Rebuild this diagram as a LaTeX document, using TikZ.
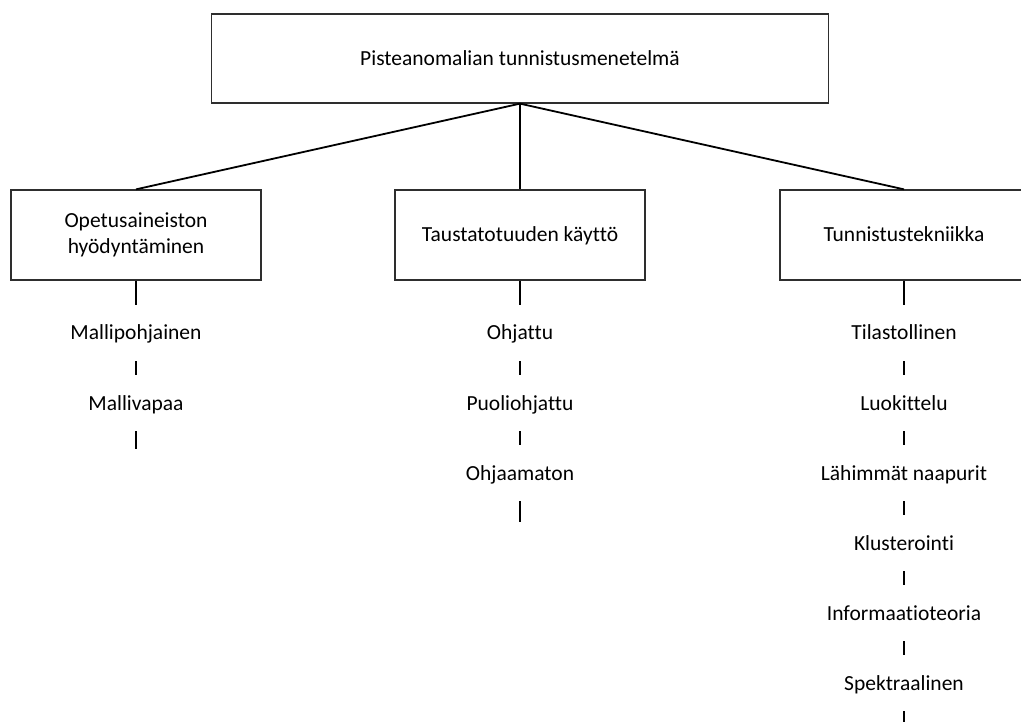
\documentclass[tikz,border=0pt]{standalone}
\usepackage{fontspec}
\setmainfont[Ligatures=NoCommon]{Carlito}
\begin{document}
\begin{tikzpicture}[x=1pt,y=-1pt,
  txt/.style={font=\fontsize{21.5}{26}\selectfont},
  box/.style={txt, draw=black!82, line width=1.3pt, inner sep=0pt, align=center},
  oneline/.style={text height=17pt, text depth=3pt},
  item/.style={txt, oneline, inner sep=0pt, minimum height=56pt},
  link/.style={line width=1.8pt},
  tick/.style={line width=1.4pt}]
\useasboundingbox (0,0) rectangle (1021,722);
\clip (0,0) rectangle (1021,722);

% root and the three criteria
\node[box, oneline, minimum width=617pt, minimum height=89pt] (root) at (520,58.5) {Pisteanomalian tunnistusmenetelmä};
\node[box, minimum width=250pt, minimum height=90pt] (train) at (136,235) {Opetusaineiston\\hyödyntäminen};
\node[box, oneline, minimum width=250pt, minimum height=90pt] (back) at (520,235) {Taustatotuuden käyttö};
\node[box, oneline, minimum width=248pt, minimum height=90pt] (tech) at (904,235) {Tunnistustekniikka};

\draw[link] (root.south) -- (train.north);
\draw[link] (root.south) -- (back.north);
\draw[link] (root.south) -- (tech.north);

% training data
\node[item] (m1) at (136,333) {Mallipohjainen};
\node[item] (m2) at (136,403) {Mallivapaa};
\coordinate (mend) at (136,449);
\draw[tick] (train.south) -- (m1.north);
\draw[tick] (m1.south) -- (m2.north);
\draw[tick] (m2.south) -- (mend);

% ground truth
\node[item] (o1) at (520,333) {Ohjattu};
\node[item] (o2) at (520,403) {Puoliohjattu};
\node[item] (o3) at (520,473) {Ohjaamaton};
\coordinate (oend) at (520,522);
\draw[tick] (back.south) -- (o1.north);
\draw[tick] (o1.south) -- (o2.north);
\draw[tick] (o2.south) -- (o3.north);
\draw[tick] (o3.south) -- (oend);

% detection technique
\node[item] (t1) at (904,333) {Tilastollinen};
\node[item] (t2) at (904,403) {Luokittelu};
\node[item] (t3) at (904,473) {Lähimmät naapurit};
\node[item] (t4) at (904,543) {Klusterointi};
\node[item] (t5) at (904,613) {Informaatioteoria};
\node[item] (t6) at (904,683) {Spektraalinen};
\coordinate (tend) at (904,735);
\draw[tick] (tech.south) -- (t1.north);
\draw[tick] (t1.south) -- (t2.north);
\draw[tick] (t2.south) -- (t3.north);
\draw[tick] (t3.south) -- (t4.north);
\draw[tick] (t4.south) -- (t5.north);
\draw[tick] (t5.south) -- (t6.north);
\draw[tick] (t6.south) -- (tend);
\end{tikzpicture}
\end{document}
